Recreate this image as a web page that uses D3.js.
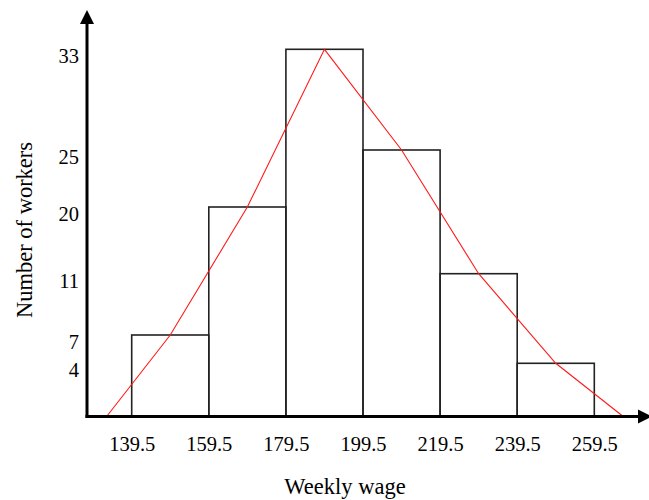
<!DOCTYPE html>
<html>
<head>
<meta charset="utf-8">
<script src="https://cdn.jsdelivr.net/npm/d3@7"></script>
<style>
  body { margin: 0; background: #fff; }
  text { font-family: 'Liberation Serif', 'Times New Roman', serif; fill: #000; }
</style>
</head>
<body>
<svg id="chart" width="649" height="500"></svg>
<script>
// class boundaries and frequencies
const edges = [139.5, 159.5, 179.5, 199.5, 219.5, 239.5, 259.5]
const counts = [7, 20, 33, 25, 11, 4]
// frequency polygon (class midpoints, closed off at both ends)
const polyX = [133, 149.5, 169.5, 189.5, 209.5, 229.5, 249.5, 267]
const polyY = [0, 7, 20, 33, 25, 11, 4, 0]
// y tick labels as drawn on the hand-made axis
const yTicks = [4, 7, 11, 20, 25, 33]

document.addEventListener('DOMContentLoaded', function () {
  drawHistogram()
})

function drawHistogram() {
  const svg = d3.select('#chart')
  const axisX = 87
  const baseY = 416.5

  const x = d3.scaleLinear().domain([139.5, 259.5]).range([131.7, 594.3])
  // the original axis is not evenly spaced, so map it piecewise
  const y = d3
    .scaleLinear()
    .domain([0, 4, 7, 11, 20, 25, 33])
    .range([baseY, 363.3, 335, 273.7, 207, 150, 49.3])

  const bins = counts.map((c, i) => ({ x0: edges[i], x1: edges[i + 1], n: c }))

  svg.append('g')
    .selectAll('rect')
    .data(bins)
    .join('rect')
    .attr('x', d => x(d.x0))
    .attr('y', d => y(d.n))
    .attr('width', d => x(d.x1) - x(d.x0))
    .attr('height', d => baseY - y(d.n))
    .attr('fill', 'none')
    .attr('stroke', '#222')
    .attr('stroke-width', 1.6)

  svg.append('path')
    .datum(polyX.map((v, i) => [v, polyY[i]]))
    .attr('fill', 'none')
    .attr('stroke', '#ff1a1a')
    .attr('stroke-width', 1.1)
    .attr('d', d3.line().x(d => x(d[0])).y(d => y(d[1])))

  // axes with arrow heads
  svg.append('line')
    .attr('x1', axisX).attr('x2', axisX)
    .attr('y1', baseY + 1.5).attr('y2', 20)
    .attr('stroke', '#000').attr('stroke-width', 3)
  svg.append('path')
    .attr('d', `M${axisX},10 L${axisX - 7},24 L${axisX + 7},24 Z`)
    .attr('fill', '#000')
  svg.append('line')
    .attr('x1', axisX - 1.5).attr('x2', 640)
    .attr('y1', baseY).attr('y2', baseY)
    .attr('stroke', '#000').attr('stroke-width', 3)
  svg.append('path')
    .attr('d', `M652,${baseY} L638,${baseY - 7} L638,${baseY + 7} Z`)
    .attr('fill', '#000')

  // tick labels
  const gx = svg.append('g')
    .attr('transform', `translate(0,${baseY})`)
    .call(d3.axisBottom(x).tickValues(edges).tickSize(0).tickPadding(20).tickFormat(d3.format('.1f')))
  gx.select('.domain').remove()
  gx.selectAll('text').style('font-size', '20.5px').attr('font-family', null)

  const gy = svg.append('g')
    .attr('transform', `translate(${axisX},0)`)
    .call(d3.axisLeft(y).tickValues(yTicks).tickSize(0).tickPadding(8))
  gy.select('.domain').remove()
  gy.selectAll('text').style('font-size', '20.5px').attr('font-family', null).attr('dy', '0.66em')

  svg.append('text')
    .attr('x', 345)
    .attr('y', 494)
    .attr('text-anchor', 'middle')
    .style('font-size', '22.5px')
    .text('Weekly wage')

  svg.append('text')
    .attr('transform', 'translate(32,230) rotate(-90)')
    .attr('text-anchor', 'middle')
    .style('font-size', '22.5px')
    .text('Number of workers')
}
</script>
</body>
</html>
